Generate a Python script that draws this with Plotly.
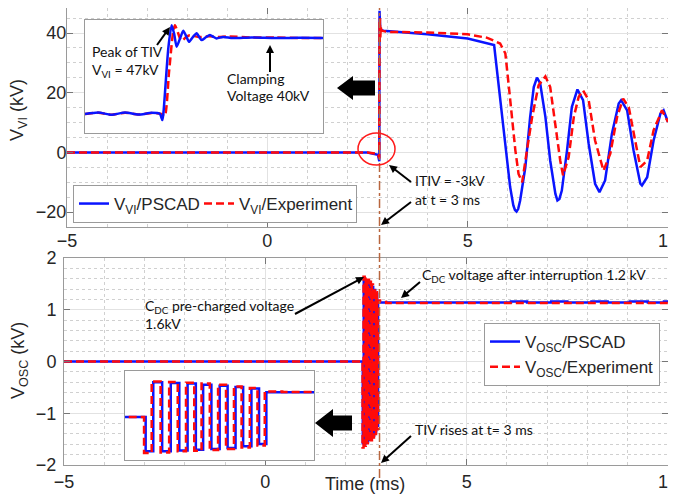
import math
import plotly.graph_objects as go

# The page body has an 8px default margin, so the figure is drawn 8px right/down.
REF_W, REF_H = 676, 499
OFF = 8
W, H = REF_W - OFF, REF_H - OFF

# ---------------- data: top panel, V_VI (kV) vs time (ms) ----------------
vi_t_pscad = [-5, 2.5, 2.76, 2.795, 2.80, 2.805, 2.81, 2.82, 2.84, 2.9, 4.0, 5.0, 5.66,
              5.72, 5.81, 5.9, 5.98, 6.06, 6.14, 6.18, 6.22, 6.26, 6.31, 6.44, 6.56, 6.65,
              6.73, 6.81, 6.94, 7.06, 7.19, 7.24, 7.29, 7.35, 7.48, 7.6, 7.74, 7.88, 8.02,
              8.18, 8.29, 8.43, 8.6, 8.77, 8.83, 8.98, 9.14, 9.31, 9.35, 9.48, 9.64, 9.81,
              9.89, 10.0]
vi_pscad = [0, 0, -0.8, -3, 47.5, 41, 43, 40.5, 41, 40.8, 39.6, 38.2, 36,
            28.7, 17.5, 6.3, -2.7, -11.6, -17.8, -19.3, -19.8, -19.0, -16.1, -4.9, 11.9, 21.9,
            25.1, 23.1, 11.9, -2.7, -13.9, -16.1, -15.6, -12.8, 0.7, 15.2, 21.1, 17.5, 2.9,
            -10.5, -13.3, -9.4, 6.3, 16.4, 17.5, 14.1, 0.7, -10.5, -11.1, -8.3, 4.0, 13.0,
            14.1, 10.2]

vi_t_exp = [-5, 2.5, 2.76, 2.795, 2.80, 2.805, 2.812, 2.82, 2.83, 2.85, 3.0, 4.0, 5.0,
            5.49, 5.81, 5.94, 6.02, 6.1, 6.19, 6.27, 6.36, 6.48, 6.61, 6.77, 6.94, 7.06,
            7.19, 7.31, 7.38, 7.52, 7.65, 7.77, 7.88, 8.02, 8.18, 8.39, 8.56, 8.73, 8.88,
            9.02, 9.18, 9.31, 9.48, 9.64, 9.85, 10.0]
vi_exp = [0, 0, -0.5, -2, 44, 37, 45, 38.5, 42, 40.8, 40.4, 40.2, 39.6,
          38.4, 36.5, 33.2, 23.1, 11.9, 0.7, -7.2, -10, 0.7, 11.9, 22.5, 25.5, 21.9,
          8.5, -2.7, -7.7, -1.6, 11.9, 18.6, 20.8, 17.5, 4.0, -6.1, -0.4, 11.9, 18.0,
          15.2, 4.0, -4.9, -2.7, 7.4, 14.1, 10.2]

# ---------------- inset: zoom on TIV onset (arbitrary time scale) ----------------
tiv_t_pscad = [0, 5.6, 11.2, 16.8, 22.4, 28, 31.5, 32.5, 33.0, 35.0, 36.4, 37.5, 38.5,
               40.0, 41.3, 42.5, 43.7, 45.3, 46.9, 48, 49, 50.8, 52.5, 54, 55.3, 58, 62,
               70, 80, 90, 100]
tiv_pscad = [0, 0.8, -0.4, 0.8, -0.3, 0.6, 0, -3.2, 1.2, 34.6, 46.8, 42, 35.4,
             40, 43.8, 41, 38, 40.5, 42.5, 40.5, 38.9, 40.4, 41.6, 40.6, 39.8, 40.6, 40.0,
             40.3, 40.0, 40.1, 40.0]
tiv_t_exp = [0, 5.6, 11.2, 16.8, 22.4, 28, 32, 33.5, 35.3, 37.0, 37.8, 39, 40.5, 42.5,
             44, 46, 48, 52, 56, 60, 70, 80, 90, 100]
tiv_exp = [0, 0.7, -0.4, 0.7, -0.3, 0.5, 0, -1.0, 22, 43, 46.8, 43, 38.5, 40.5,
           41.5, 41, 40.5, 41, 40.5, 40.8, 40.3, 40.3, 40, 40]

# ---------------- bottom panel, V_OSC (kV): switching instants and levels ----------------
osc_t_pscad = [-5, 2.420, 2.444, 2.472, 2.499, 2.526, 2.552, 2.578, 2.601, 2.627, 2.653,
               2.678, 2.703, 2.727, 2.753, 2.777, 2.800, 5.7, 6.1, 6.5, 7.1, 7.5, 8.1,
               8.5, 9.05, 9.5, 9.9, 10.0]
osc_pscad = [0, -1.58, 1.60, -1.58, 1.57, -1.54, 1.54, -1.51, 1.49, -1.47, 1.44,
             -1.43, 1.38, -1.35, 1.31, -1.24, 1.14, 1.14, 1.16, 1.14, 1.16, 1.14, 1.16,
             1.14, 1.16, 1.14, 1.16, 1.15]
osc_t_exp = [-5, 2.415, 2.439, 2.467, 2.494, 2.521, 2.547, 2.573, 2.596, 2.622, 2.648,
             2.673, 2.698, 2.722, 2.748, 2.772, 2.795, 2.85, 3.0, 10.0]
osc_exp = [0, -1.66, 1.64, -1.63, 1.61, -1.58, 1.58, -1.55, 1.54, -1.52, 1.49,
           -1.47, 1.41, -1.40, 1.34, -1.31, 1.18, 1.15, 1.13, 1.13]

x_ticks = [-5, 0, 5, 10]
vi_ticks = [-20, 0, 20, 40]
osc_ticks = [-2, -1, 0, 1, 2]

BLUE = "#0a14ff"
RED = "#ff0a0a"
AX_FONT = "Liberation Sans, Arial, sans-serif"
NOTE_FONT = "Lato, Open Sans, sans-serif"


# helpers: reference-picture pixels -> paper fractions of the (offset) figure
def clamp(v):
    return min(1.0, max(0.0, v))


def xdom(a, b):
    return [clamp((a - OFF) / W), clamp((b - OFF) / W)]


def ydom(top, bottom):
    return [clamp(1 - (bottom - OFF) / H), clamp(1 - (top - OFF) / H)]


def P(x, y):
    return (x - OFF) / W, 1 - (y - OFF) / H


fig = go.Figure()

# top panel
fig.add_trace(go.Scatter(x=vi_t_pscad, y=vi_pscad, mode="lines", name="V<sub>VI</sub>/PSCAD",
                         line=dict(color=BLUE, width=2.5), xaxis="x", yaxis="y",
                         legend="legend", legendwidth=80))
fig.add_trace(go.Scatter(x=vi_t_exp, y=vi_exp, mode="lines", name="V<sub>VI</sub>/Experiment",
                         line=dict(color=RED, width=2.5, dash="8px,4px"), xaxis="x", yaxis="y",
                         legend="legend", legendwidth=112))
# bottom panel
fig.add_trace(go.Scatter(x=osc_t_pscad, y=osc_pscad, mode="lines", name="V<sub>OSC</sub>/PSCAD",
                         line=dict(color=BLUE, width=2.5, shape="hv"), xaxis="x2", yaxis="y2",
                         legend="legend2"))
fig.add_trace(go.Scatter(x=osc_t_exp, y=osc_exp, mode="lines", name="V<sub>OSC</sub>/Experiment",
                         line=dict(color=RED, width=2.5, dash="8px,4px", shape="hv"), xaxis="x2",
                         yaxis="y2", legend="legend2"))
# top inset
fig.add_trace(go.Scatter(x=tiv_t_exp, y=tiv_exp, mode="lines", showlegend=False,
                         line=dict(color=RED, width=2.5, dash="8px,4px", shape="spline", smoothing=0.6),
                         xaxis="x3", yaxis="y3"))
fig.add_trace(go.Scatter(x=tiv_t_pscad, y=tiv_pscad, mode="lines", showlegend=False,
                         line=dict(color=BLUE, width=2.5, shape="spline", smoothing=0.6),
                         xaxis="x3", yaxis="y3"))
# bottom inset (same series, zoomed)
fig.add_trace(go.Scatter(x=osc_t_pscad, y=osc_pscad, mode="lines", showlegend=False,
                         line=dict(color=BLUE, width=2.5, shape="hv"), xaxis="x4", yaxis="y4"))
fig.add_trace(go.Scatter(x=osc_t_exp, y=osc_exp, mode="lines", showlegend=False,
                         line=dict(color=RED, width=2.5, dash="8px,4px", shape="hv"),
                         xaxis="x4", yaxis="y4"))

FRAME = "#9a9a9a"
GRID = "#e2e2e2"
MINOR = "#d0d0d0"
TICKFONT = dict(family=AX_FONT, size=18, color="#262626")


def main_axis(**kw):
    d = dict(showline=True, linecolor=FRAME, linewidth=1, mirror="ticks", ticks="inside",
             ticklen=6, tickcolor="#777777", showgrid=True, gridcolor=GRID, gridwidth=1,
             zeroline=False, tickfont=TICKFONT, fixedrange=True, automargin=False,
             ticklabeloverflow="allow")
    d.update(kw)
    return d


def inset_axis(**kw):
    d = dict(showline=True, linecolor=FRAME, linewidth=1, mirror=True, ticks="",
             showticklabels=False, showgrid=False, zeroline=False, fixedrange=True,
             automargin=False)
    d.update(kw)
    return d


LEGFONT = dict(family=AX_FONT, size=17, color="#262626")

# top panel: 0 kV at ref y=152, 2.975 px per kV; its frame top is clipped to the page edge
TOP_FRAME_Y = max(3, OFF)
vi_range = [-25, (152 - TOP_FRAME_Y) / 2.975]

layout = dict(
    width=W, height=H, margin=dict(l=0, r=0, t=0, b=0, autoexpand=False),
    paper_bgcolor="white", plot_bgcolor="white",
    font=dict(family=AX_FONT, size=18, color="#262626"),
    xaxis=main_axis(domain=xdom(67, 668), range=[-5, 10], anchor="y", tickvals=x_ticks,
                    ticklabelstandoff=-3,
                    minor=dict(dtick=1, tick0=-5, showgrid=True, gridcolor=MINOR, griddash="dot", ticks="")),
    yaxis=main_axis(domain=ydom(TOP_FRAME_Y, 227), range=vi_range, anchor="x", tickvals=vi_ticks,
                    ticklabelstandoff=-4,
                    minor=dict(dtick=5, tick0=0, showgrid=True, gridcolor=MINOR, griddash="dot", ticks="")),
    xaxis2=main_axis(domain=xdom(64, 668), range=[-5, 10], anchor="y2", tickvals=x_ticks,
                     ticklabelstandoff=0,
                     minor=dict(dtick=1, tick0=-5, showgrid=True, gridcolor=MINOR, griddash="dot", ticks="")),
    yaxis2=main_axis(domain=ydom(258, 465), range=[-2, 2], anchor="x2", tickvals=osc_ticks,
                     ticklabelstandoff=3,
                     minor=dict(dtick=0.2, tick0=0, showgrid=True, gridcolor=MINOR, griddash="dot", ticks="")),
    xaxis3=inset_axis(domain=xdom(85, 323), range=[0, 100], anchor="y3"),
    yaxis3=inset_axis(domain=ydom(20, 133), range=[-10, 49.5], anchor="x3"),
    xaxis4=inset_axis(domain=xdom(125, 314), range=[2.355, 2.950], anchor="y4"),
    yaxis4=inset_axis(domain=ydom(371, 460), range=[-1.98, 2.12], anchor="x4"),
    legend=dict(orientation="h", x=P(73, 0)[0], y=P(0, 185)[1], xanchor="left", yanchor="top",
                bgcolor="white", bordercolor=FRAME, borderwidth=1, itemwidth=30,
                font=LEGFONT, tracegroupgap=0),
    legend2=dict(orientation="v", x=P(484, 0)[0], y=P(0, 323)[1], xanchor="left", yanchor="top",
                 bgcolor="white", bordercolor=FRAME, borderwidth=1, itemwidth=30,
                 font=LEGFONT, tracegroupgap=0),
)
fig.update_layout(**layout)

ann = []

# axis titles
for txt, (x, y), ang in [("V<sub>VI</sub> (kV)", P(19, 110), -90),
                         ("V<sub>OSC</sub> (kV)", P(19, 361), -90),
                         ("Time (ms)", P(365, 484), 0)]:
    ann.append(dict(text=txt, x=x, y=y, xref="paper", yref="paper", showarrow=False,
                    textangle=ang, xanchor="center", yanchor="middle",
                    font=dict(family=AX_FONT, size=18, color="#262626")))

# callout texts (left edge, vertical centre) in reference pixels
notes = [("Peak of TIV", 90, 52), ("V<sub>VI</sub> = 47kV", 90, 70),
         ("Clamping", 225, 79), ("Voltage 40kV", 225, 96),
         ("ITIV = -3kV", 413, 181), ("at t = 3 ms", 413, 199),
         ("C<sub>DC</sub> voltage after interruption 1.2 kV", 420, 275),
         ("C<sub>DC</sub> pre-charged voltage", 143, 306), ("1.6kV", 143, 323),
         ("TIV rises at t= 3 ms", 413, 429)]
for txt, px, py in notes:
    x, y = P(px, py)
    ann.append(dict(text=txt, x=x, y=y, xref="paper", yref="paper", showarrow=False,
                    xanchor="left", yanchor="middle",
                    font=dict(family=NOTE_FONT, size=14, color="#111111")))
fig.update_layout(annotations=ann)


def poly(points):
    s = ""
    for i, (px, py) in enumerate(points):
        x, y = P(px, py)
        s += ("M" if i == 0 else "L") + f"{x:.5f},{y:.5f} "
    return s + "Z"


shapes = [
    # event instant t = 3 ms (dash-dot) through both panels
    dict(type="line", xref="x", yref="paper", x0=2.8, x1=2.8, y0=P(0, 478)[1], y1=1.0,
         line=dict(color="#b8663e", width=1.5, dash="dashdot"), layer="above"),
    # red circle around ITIV
    dict(type="circle", xref="paper", yref="paper", x0=P(358, 0)[0], x1=P(395, 0)[0],
         y0=P(0, 165)[1], y1=P(0, 133)[1], line=dict(color="#ff1a1a", width=1.5), layer="above"),
    # big black arrows pointing to insets
    dict(type="path", xref="paper", yref="paper", fillcolor="black", line=dict(width=0),
         path=poly([(337, 88), (353, 76), (353, 80.5), (375, 80.5), (375, 95.5), (353, 95.5), (353, 100)]),
         layer="above"),
    dict(type="path", xref="paper", yref="paper", fillcolor="black", line=dict(width=0),
         path=poly([(315, 423), (333, 409), (333, 415.5), (352, 415.5), (352, 430.5), (333, 430.5), (333, 437)]),
         layer="above"),
]

# callout arrows: (tail_x, tail_y, tip_x, tip_y) in reference pixels
arrows = [(157, 45, 170, 27), (270, 72, 270, 45), (411, 182, 389, 165),
          (411, 202, 381, 225), (420, 282, 401, 298), (295, 314, 364, 277),
          (411, 436, 381, 463)]
HEAD_L, HEAD_W = 8.0, 4.0
for tx, ty, hx, hy in arrows:
    dx, dy = hx - tx, hy - ty
    n = math.hypot(dx, dy)
    ux, uy = dx / n, dy / n
    bx, by = hx - HEAD_L * ux, hy - HEAD_L * uy
    x0, y0 = P(tx, ty)
    x1, y1 = P(bx + ux, by + uy)
    shapes.append(dict(type="line", xref="paper", yref="paper", x0=x0, y0=y0, x1=x1, y1=y1,
                       line=dict(color="black", width=2), layer="above"))
    shapes.append(dict(type="path", xref="paper", yref="paper", fillcolor="black",
                       line=dict(width=0), layer="above",
                       path=poly([(hx, hy), (bx - HEAD_W * uy, by + HEAD_W * ux),
                                  (bx + HEAD_W * uy, by - HEAD_W * ux)])))
fig.update_layout(shapes=shapes)

fig.write_html("out.html")
